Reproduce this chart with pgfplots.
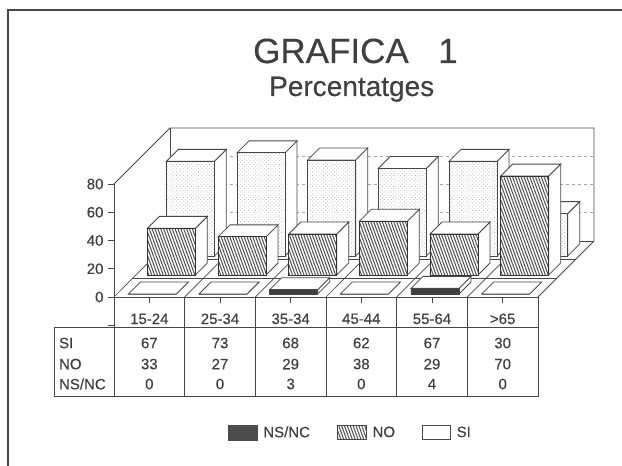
\documentclass[border=0pt]{standalone}
\usepackage{fontspec}
\setmainfont{Liberation Sans}[FakeBold=0.3]
\usepackage{pgfplots}
\pgfplotsset{compat=1.18}
\usetikzlibrary{patterns,patterns.meta}
\definecolor{lc}{gray}{0.28}
\definecolor{tc}{gray}{0.25}
\newcommand{\faces}[3]{% category, lane offset (px), value
  \pgfmathsetmacro{\xa}{#1+(11.33+#2)/70.667}
  \pgfmathsetmacro{\xb}{\xa+48/70.667}
  \pgfmathsetmacro{\xc}{\xb+12/70.667}
  \pgfmathsetmacro{\xd}{\xa+12/70.667}
  \pgfmathsetmacro{\ya}{#2/1.4125}
  \pgfmathsetmacro{\yb}{\ya+#3}
  \pgfmathsetmacro{\yc}{\ya+12/1.4125}
  \pgfmathsetmacro{\yd}{\yb+12/1.4125}
  \addplot[draw=lc,line width=0.8pt,fill=white,forget plot] coordinates {(\xb,\ya)(\xc,\yc)(\xc,\yd)(\xb,\yb)} --cycle;
  \addplot[draw=lc,line width=0.8pt,fill=white,forget plot] coordinates {(\xa,\yb)(\xb,\yb)(\xc,\yd)(\xd,\yd)} --cycle;
}
\newcommand{\cell}[3]{\node[text=tc,inner sep=0pt,font=\fontsize{15}{16}\selectfont] at (axis cs:#1,#2) {#3};}
\newcommand{\rowlab}[2]{\node[anchor=west,inner sep=0pt,text=tc,font=\fontsize{15}{16}\selectfont] at (axis cs:-0.78,#1) {#2};}
\newcommand{\col}[4]{\cell{#1}{-32.6}{#2}\cell{#1}{-47.5}{#3}\cell{#1}{-61.6}{#4}}
\begin{document}
\begin{tikzpicture}[x=1pt,y=1pt]
\path[use as bounding box] (-114,-169) rectangle (508,297);
\begin{axis}[
  at={(0,0)},anchor=south west,
  scale only axis,width=424pt,height=113pt,
  xmin=0,xmax=6,ymin=0,ymax=80,
  clip=false,
  axis lines=left,
  axis line style={draw=lc,line width=0.8pt,-},
  xtick={0.5,1.5,2.5,3.5,4.5,5.5},
  xticklabels={15-24,25-34,35-34,45-44,55-64,>65},
  ytick={0,20,40,60,80},
  tick align=outside,major tick length=6pt,
  tick style={draw=lc,line width=0.7pt},
  tick label style={font=\fontsize{15}{16}\selectfont,text=tc},
  /pgf/number format/assume math mode=true,
  xticklabel style={yshift=-7pt},
  yticklabel style={xshift=-1pt},
  legend style={at={(axis cs:1.612,-96)},anchor=west,draw=none,fill=none,
    legend columns=3,font=\fontsize{15}{16}\selectfont,text=tc,
    inner sep=0pt,outer sep=0pt,
    /tikz/every even column/.style={column sep=25pt},
    /tikz/every odd column/.style={column sep=4pt}},
  legend cell align=left,
]
% walls and floor
\addplot[draw=lc,line width=0.8pt,forget plot] coordinates {(0,80)(0.792,119.65)(6.792,119.65)(6.792,39.65)(6,0)};
\addplot[draw=lc,line width=0.8pt,forget plot] coordinates {(0.792,119.65)(0.792,39.65)(6.792,39.65)};
\addplot[draw=gray!70,line width=0.6pt,dashed,forget plot] coordinates {(0.792,59.65)(6.792,59.65)};
\addplot[draw=gray!70,line width=0.6pt,dashed,forget plot] coordinates {(0.792,79.65)(6.792,79.65)};
\addplot[draw=gray!70,line width=0.6pt,dashed,forget plot] coordinates {(0.792,99.65)(6.792,99.65)};
\addplot[draw=lc,line width=0.7pt,forget plot] coordinates {(0.269,13.45)(6.269,13.45)};
\addplot[draw=lc,line width=0.7pt,forget plot] coordinates {(0.538,26.9)(6.538,26.9)};
\addplot[draw=lc,line width=0.7pt,forget plot] coordinates {(0,0)(0.792,39.65)};
\addplot[draw=lc,line width=0.7pt,forget plot] coordinates {(1,0)(1.792,39.65)};
\addplot[draw=lc,line width=0.7pt,forget plot] coordinates {(2,0)(2.792,39.65)};
\addplot[draw=lc,line width=0.7pt,forget plot] coordinates {(3,0)(3.792,39.65)};
\addplot[draw=lc,line width=0.7pt,forget plot] coordinates {(4,0)(4.792,39.65)};
\addplot[draw=lc,line width=0.7pt,forget plot] coordinates {(5,0)(5.792,39.65)};
% SI
\faces{0}{41}{67}\faces{1}{41}{73}\faces{2}{41}{68}\faces{3}{41}{62}\faces{4}{41}{67}\faces{5}{41}{30}
\addplot[ybar,bar width=48pt,bar shift=0pt,xshift=41pt,yshift=41pt,draw=lc,line width=0.8pt,
  preaction={fill=white},pattern={Dots[radius=0.5pt,distance=2.6pt,angle=45]},pattern color=gray!65,forget plot]
  coordinates {(0.5,67)(1.5,73)(2.5,68)(3.5,62)(4.5,67)(5.5,30)};
% NO
\faces{0}{22}{33}\faces{1}{22}{27}\faces{2}{22}{29}\faces{3}{22}{38}\faces{4}{22}{29}\faces{5}{22}{70}
\addplot[ybar,bar width=48pt,bar shift=0pt,xshift=22pt,yshift=22pt,draw=black!80,line width=0.9pt,
  preaction={fill=white},pattern={Lines[angle=-70,distance=2.7pt,line width=1pt]},pattern color=black!70,forget plot]
  coordinates {(0.5,33)(1.5,27)(2.5,29)(3.5,38)(4.5,29)(5.5,70)};
% NS/NC
\faces{0}{3}{0}\faces{1}{3}{0}\faces{2}{3}{3}\faces{3}{3}{0}\faces{4}{3}{4}\faces{5}{3}{0}
\addplot[ybar,bar width=48pt,bar shift=0pt,xshift=3pt,yshift=3pt,draw=lc,line width=0.7pt,fill=black!75,forget plot]
  coordinates {(0.5,0)(1.5,0)(2.5,3)(3.5,0)(4.5,4)(5.5,0)};
% legend
\addlegendimage{legend image code/.code={\fill[black!70] (0pt,-7.5pt) rectangle (29pt,7.5pt);}}
\addlegendentry{NS/NC}
\addlegendimage{legend image code/.code={\draw[draw=lc,line width=0.6pt,pattern={Lines[angle=-70,distance=2.7pt,line width=1pt]},pattern color=black!70] (0pt,-7pt) rectangle (29pt,7pt);}}
\addlegendentry{NO}
\addlegendimage{legend image code/.code={\draw[draw=lc,line width=0.6pt,fill=white] (0pt,-7pt) rectangle (28pt,7pt);}}
\addlegendentry{SI}
% table
\draw[draw=lc,line width=0.8pt] (axis cs:-0.849,-21.24) rectangle (axis cs:6,-70.09);
\draw[draw=lc,line width=0.8pt] (axis cs:0,0) -- (axis cs:0,-70.09);
\draw[draw=lc,line width=0.8pt] (axis cs:1,0) -- (axis cs:1,-70.09);
\draw[draw=lc,line width=0.8pt] (axis cs:2,0) -- (axis cs:2,-70.09);
\draw[draw=lc,line width=0.8pt] (axis cs:3,0) -- (axis cs:3,-70.09);
\draw[draw=lc,line width=0.8pt] (axis cs:4,0) -- (axis cs:4,-70.09);
\draw[draw=lc,line width=0.8pt] (axis cs:5,0) -- (axis cs:5,-70.09);
\draw[draw=lc,line width=0.8pt] (axis cs:6,0) -- (axis cs:6,-70.09);
\draw[draw=lc,line width=0.7pt] (axis cs:0,-20) -- ++(-6pt,0);
\rowlab{-32.6}{SI}\rowlab{-47.5}{NO}\rowlab{-61.6}{NS/NC}
\col{0.5}{67}{33}{0}
\col{1.5}{73}{27}{0}
\col{2.5}{68}{29}{3}
\col{3.5}{62}{38}{0}
\col{4.5}{67}{29}{4}
\col{5.5}{30}{70}{0}
\end{axis}
% frame and titles
\draw[draw=lc,line width=1.5pt] (-106,-169) -- (-106,287) -- (508,287);
\node[anchor=base west,inner sep=0pt,text=tc,font=\fontsize{35}{40}\selectfont] at (139,234) {GRAFICA};
\node[anchor=base west,inner sep=0pt,text=tc,font=\fontsize{35}{40}\selectfont] at (324,234) {1};
\node[anchor=base west,inner sep=0pt,text=tc,font=\fontsize{28}{30}\selectfont] at (155,201) {Percentatges};
\end{tikzpicture}
\end{document}
